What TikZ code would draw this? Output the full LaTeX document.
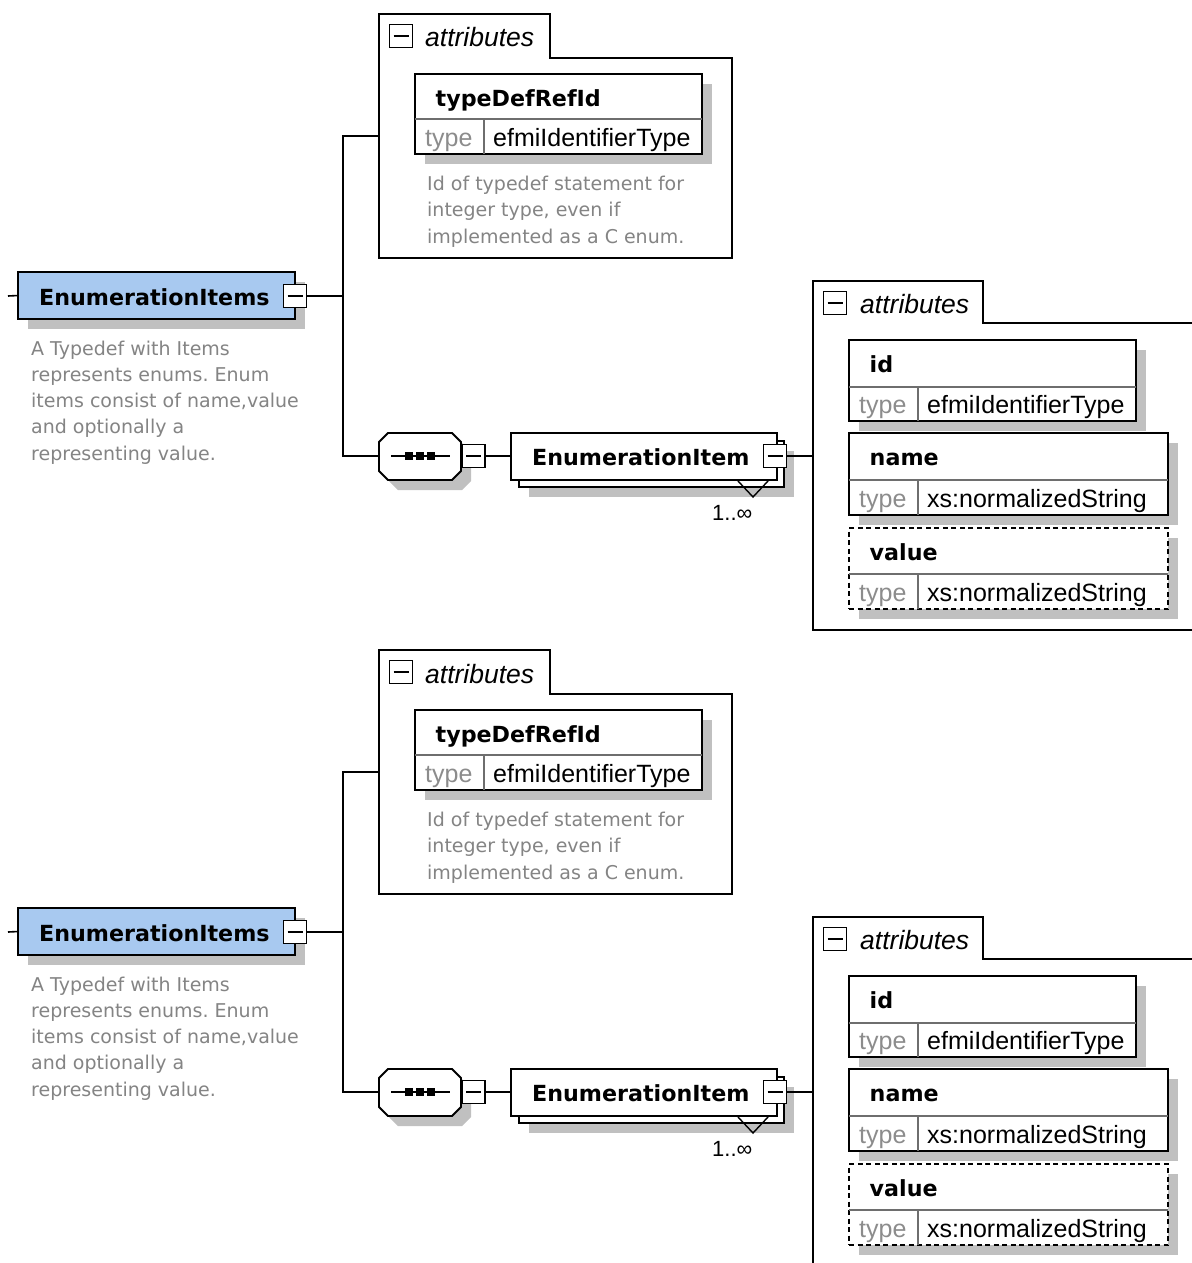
\documentclass[tikz,border=0pt]{standalone}
\usepackage{fontspec}
\setmainfont{Liberation Sans}
\newfontfamily\labfont{DejaVu Sans}
\definecolor{shadowgray}{RGB}{192,192,192}
\definecolor{elblue}{RGB}{168,201,240}
\definecolor{descgray}{RGB}{132,132,132}
\definecolor{typegray}{RGB}{140,140,140}
\definecolor{divgray}{RGB}{110,110,110}
% item box: #1 name, #2 x1, #3 y1, #4 x2, #5 y2, #6 divider y, #7 extra style, #8 label, #9 type
\newcommand\itembox[9]{%
  \fill[shd] (#2+10,#3+10) rectangle (#4+10,#5+10);
  \node[bx,#7,minimum width=#4-#2,minimum height=#5-#3] (#1) at ({(#2+#4)/2},{(#3+#5)/2}) {};
  \draw[divl] (#2,#6) -- (#4,#6);
  \draw[divl] (#2+69,#6) -- (#2+69,#5);
  \node[lab] (#1-l) at (#2+20.5,#3+32) {#8};
  \node[typk] (#1-k) at (#2+10,#5-7.5) {type};
  \node[typ] (#1-t) at (#2+78,#5-7.5) {#9};
}
\frenchspacing
\begin{document}
\begin{tikzpicture}[x=1pt,y=-1pt,line join=miter,
  bx/.style={draw=black,line width=1.8pt,fill=white,inner sep=0pt,outer sep=0pt},
  conn/.style={draw=black,line width=1.6pt},
  shd/.style={fill=shadowgray,draw=none},
  divl/.style={draw=divgray,line width=1.3pt},
  clp/.style={draw=black,line width=1.6pt,fill=white,minimum width=23pt,minimum height=23pt,
    inner sep=0pt,outer sep=0pt,
    path picture={\draw[line width=1.6pt] ([xshift=4pt]path picture bounding box.west) -- ([xshift=-4pt]path picture bounding box.east);}},
  lab/.style={anchor=base west,inner sep=0pt,font=\labfont\bfseries\fontsize{22.2}{26}\selectfont},
  dsc/.style={anchor=base west,inner sep=0pt,text=descgray,font=\labfont\fontsize{19}{24}\selectfont},
  typ/.style={anchor=base west,inner sep=0pt,font=\fontsize{25}{28}\selectfont},
  typk/.style={typ,text=typegray},
  att/.style={anchor=base west,inner sep=0pt,font=\itshape\fontsize{26.5}{28}\selectfont},
  card/.style={anchor=base west,inner sep=0pt,font=\fontsize{22}{26}\selectfont}
]
\fill[white] (0,0) rectangle (1191,1263);
\useasboundingbox (0,0) rectangle (1191,1263);
\foreach \o/\s in {0/a,636/b}{
\begin{scope}[yshift=-\o pt]
  % ---- root element ----
  \fill[shd] (28,282) rectangle (305,329);
  \node[bx,fill=elblue,minimum width=277,minimum height=47] (ei\s) at (156.5,295.5) {};
  \node[lab] (eit\s) at (39,305) {EnumerationItems};
  \node[clp] (eic\s) at (295,296) {};
  \foreach \t [count=\k from 0] in {A Typedef with Items,represents enums. Enum,items consist of name{,}value,and optionally a,representing value.}{
    \node[dsc] (ed\s\k) at (31,355+26.25*\k) {\t};
  }
  \coordinate (in\s) at (8,296);
  \coordinate (j\s) at (343,296);
  % ---- attributes container A ----
  \draw[line width=1.8pt] (379,14) -- (550,14) -- (550,58) -- (732,58) -- (732,258) -- (379,258) -- cycle;
  \coordinate (aA\s) at (379,136);
  \node[clp] (aAc\s) at (401,36) {};
  \node[att] (aAt\s) at (425,47) {attributes};
  \itembox{td\s}{415}{74}{702}{154}{119}{}{typeDefRefId}{efmiIdentifierType}
  \foreach \t [count=\k from 0] in {Id of typedef statement for,{integer type, even if},implemented as a C enum.}{
    \node[dsc] (tdd\s\k) at (427,190+26.5*\k) {\t};
  }
  % ---- sequence compositor ----
  \fill[shd] (389,452) -- (398,443) -- (462,443) -- (471,452) -- (471,481) -- (462,490) -- (398,490) -- (389,481) -- cycle;
  \draw[line width=1.8pt,fill=white] (379,442) -- (388,433) -- (452,433) -- (461,442) -- (461,471) -- (452,480) -- (388,480) -- (379,471) -- cycle;
  \node[minimum width=82,minimum height=47,inner sep=0pt,outer sep=0pt] (sq\s) at (420,456) {};
  \draw[line width=1.6pt] (391,456) -- (450,456);
  \fill (405,452) rectangle (413,460);
  \fill (416,452) rectangle (424,460);
  \fill (427,452) rectangle (435,460);
  \node[clp] (sqc\s) at (473.5,456) {};
  % ---- EnumerationItem (repeating) ----
  \fill[shd] (529,451) rectangle (794,497);
  \draw[bx] (519,441) rectangle (784,487);
  \node[bx,minimum width=266,minimum height=47] (em\s) at (644,456.5) {};
  \node[lab] (emt\s) at (532,465) {EnumerationItem};
  \node[clp] (emc\s) at (775,456) {};
  \draw[line width=1.4pt] (738,481) -- (753,497) -- (768,481);
  \node[card] (emn\s) at (712,520) {1..∞};
  % ---- attributes container B ----
  \draw[line width=1.8pt] (1192,323) -- (983,323) -- (983,281) -- (813,281) -- (813,630) -- (1192,630);
  \coordinate (aB\s) at (813,456);
  \node[clp] (aBc\s) at (835,303) {};
  \node[att] (aBt\s) at (860,313) {attributes};
  \itembox{id\s}{849}{340}{1136}{421}{387}{}{id}{efmiIdentifierType}
  \itembox{nm\s}{849}{433}{1168}{515}{480}{}{name}{xs:normalizedString}
  \itembox{vl\s}{849}{528}{1168}{609}{574}{dash pattern=on 5pt off 3.5pt}{value}{xs:normalizedString}
  % ---- connectors ----
  \draw[conn] (in\s) -- (ei\s.west);
  \draw[conn] (eic\s.east) -- (j\s);
  \draw[conn] (j\s) |- (aA\s);
  \draw[conn] (j\s) |- (sq\s.west);
  \draw[conn] (sqc\s.east) -- (sqc\s.east -| em\s.west);
  \draw[conn] (emc\s.east) -- (aB\s);
\end{scope}
}
\end{tikzpicture}
\end{document}
